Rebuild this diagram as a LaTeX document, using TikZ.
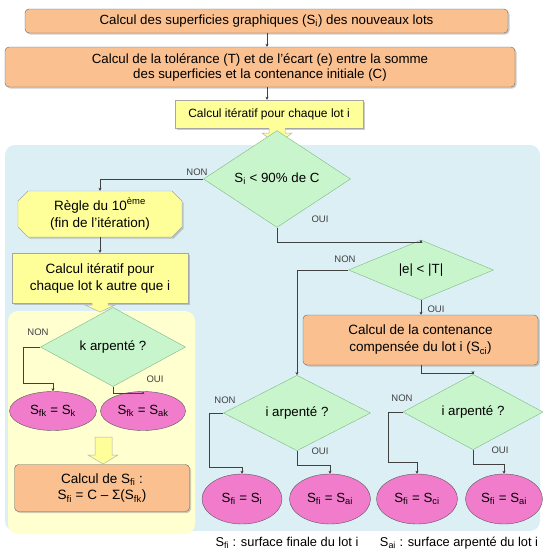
\documentclass[tikz,border=0pt]{standalone}
\usepackage{fontspec}
\setmainfont{Liberation Sans}
\usetikzlibrary{shapes.geometric,shadows,arrows.meta}
\definecolor{orfill}{HTML}{FAC090}
\definecolor{yelfill}{HTML}{FFFF99}
\definecolor{grfill}{HTML}{C8F5CC}
\definecolor{grline}{HTML}{7DBB84}
\definecolor{pkfill}{HTML}{F07CCB}
\definecolor{bluebg}{HTML}{DCEFF5}
\definecolor{yelbg}{HTML}{FFFFD0}
\definecolor{lnc}{HTML}{404040}
\tikzset{
  every node/.style={font=\fontsize{13.3}{15}\selectfont, align=center, text=black},
  big/.style={font=\fontsize{13.5}{17}\selectfont},
  obox/.style={draw=gray!80!black, fill=orfill, rounded corners=4pt, inner sep=0pt, drop shadow={shadow xshift=1.5pt, shadow yshift=-1.5pt, opacity=0.4}},
  ybox/.style={draw=gray!70, fill=yelfill, inner sep=0pt, drop shadow={shadow xshift=1.5pt, shadow yshift=-1.5pt, opacity=0.4}},
  dia/.style={diamond, draw=grline, fill=grfill, inner sep=0pt},
  ell/.style={ellipse, draw=gray!70!black, fill=pkfill, inner sep=0pt},
  conn/.style={draw=lnc, line width=0.5pt, -{Stealth[length=3pt,width=3pt]}},
  lab/.style={font=\fontsize{9.5}{11}\selectfont, text=lnc},
  legend/.style={font=\fontsize{12.8}{15}\selectfont},
  barrow/.style={fill=yelfill, draw=gray!60, line width=0.5pt}
}
\begin{document}
\begin{tikzpicture}[x=1pt,y=-1pt]
\useasboundingbox (0,0) rectangle (544,552);
% backgrounds
\fill[bluebg] (5,145) [rounded corners=10pt] rectangle (540,531);
\fill[yelbg] (8,311) [rounded corners=10pt] rectangle (195,534);
% top chain
\node[obox, minimum width=483pt, minimum height=24pt] (b1) at (266.5,21) {Calcul des superficies graphiques (S\textsubscript{i}) des nouveaux lots};
\node[obox, minimum width=510pt, minimum height=40pt] (b2) at (260,67) {Calcul de la tolérance (T) et de l’écart (e) entre la somme\\des superficies et la contenance initiale (C)};
\node[ybox, minimum width=188pt, minimum height=28pt, font=\fontsize{12}{14}\selectfont] (b3) at (269,114) {Calcul itératif pour chaque lot i};
\draw[conn] (b1.south -| 267,0) -- (b2.north -| 267,0);
\draw[conn] (b2.south -| 267,0) -- (b3.north -| 267,0);
% block arrow 1
\draw[barrow] (269,128) -- (269,133) -- (262,133) -- (277,145) -- (292,133) -- (285,133) -- (285,128);
% diamonds
\node[dia, minimum width=147pt, minimum height=63pt] (d1) at (277,179) {S\textsubscript{i} < 90\% de C};
\node[dia, minimum width=145pt, minimum height=60pt] (d2) at (421,270) {|e| < |T|};
\node[dia, minimum width=147pt, minimum height=62pt] (d3) at (297,413) {i arpenté ?};
\node[dia, minimum width=140pt, minimum height=60pt] (d4) at (473,412) {i arpenté ?};
\node[dia, minimum width=145pt, minimum height=60pt] (dk) at (113,347) {k arpenté ?};
% left column
\draw[fill=yelfill, draw=gray!70, drop shadow={shadow xshift=1.5pt, shadow yshift=-1.5pt, opacity=0.4}]
  (28,191) -- (172,191) -- (182,201) -- (182,227) -- (172,237) -- (28,237) -- (18,227) -- (18,201) -- cycle;
\node[big, inner sep=0pt, minimum width=164pt, minimum height=46pt] (rg) at (100,214) {Règle du 10\textsuperscript{ème}\\(fin de l’itération)};
\node[ybox, big, minimum width=176pt, minimum height=50pt] (kb) at (100,278) {Calcul itératif pour\\chaque lot k autre que i};
\draw[barrow] (92,303) -- (92,305) -- (85,305) -- (100,312) -- (115,305) -- (108,305) -- (108,303);
\node[ell, minimum width=87pt, minimum height=39pt] (ek1) at (53,411) {S\textsubscript{fk} = S\textsubscript{k}};
\node[ell, minimum width=85pt, minimum height=39pt] (ek2) at (143,411) {S\textsubscript{fk} = S\textsubscript{ak}};
\draw[barrow] (95,437) -- (112,437) -- (112,455) -- (118,455) -- (103,464) -- (88,455) -- (95,455) -- cycle;
\node[obox, big, minimum width=175pt, minimum height=47pt] (sf) at (102,488) {Calcul de S\textsubscript{fi} :\\S\textsubscript{fi} = C – Σ(S\textsubscript{fk})};
% right part
\node[obox, big, minimum width=235pt, minimum height=50pt] (cc) at (420.5,340) {Calcul de la contenance\\compensée du lot i (S\textsubscript{ci})};
\node[ell, minimum width=80pt, minimum height=50pt] (e1) at (242,499) {S\textsubscript{fi} = S\textsubscript{i}};
\node[ell, minimum width=81pt, minimum height=50pt] (e2) at (330,499) {S\textsubscript{fi} = S\textsubscript{ai}};
\node[ell, minimum width=81pt, minimum height=50pt] (e3) at (417,499) {S\textsubscript{fi} = S\textsubscript{ci}};
\node[ell, minimum width=77pt, minimum height=50pt] (e4) at (504,499) {S\textsubscript{fi} = S\textsubscript{ai}};
% connectors
\draw[conn] (d1.west) -| (rg.north);
\draw[conn] (rg.south) -- (kb.north);
\draw[conn] (d1.south) -- ++(0,15) -| (d2.north);
\draw[conn] (d2.west) -| (d3.north);
\draw[conn] (d2.south) -- (cc.north -| d2.south);
\draw[conn] (cc.south -| d2.south) -- ++(0,8) -| (d4.north);
\draw[conn] (d3.west) -- ++(-14,0) |- (242,467) -- (e1.north);
\draw[conn] (d3.south) -- ++(0,14) -| (e2.north);
\draw[conn] (d4.west) -- ++(-15,0) |- (417,462) -- (e3.north);
\draw[conn] (d4.south) -- ++(0,14) -| (e4.north);
\draw[conn] (dk.west) -- ++(-17,0) |- (53,383) -- (ek1.north);
\draw[conn] (dk.south) -- ++(0,6) -| (ek2.north);
% labels
\node[lab] (n1) at (197,172) {NON};
\node[lab] (o1) at (320,219) {OUI};
\node[lab] (n2) at (345,259) {NON};
\node[lab] (o2) at (436,309) {OUI};
\node[lab] (n3) at (225,400) {NON};
\node[lab] (o3) at (320,451) {OUI};
\node[lab] (n4) at (402,398) {NON};
\node[lab] (o4) at (500,450) {OUI};
\node[lab] (nk) at (38,332) {NON};
\node[lab] (ok) at (155,379) {OUI};
% legend
\node[legend] (l1) at (287,543) {S\textsubscript{fi} : surface finale du lot i};
\node[legend] (l2) at (459,543) {S\textsubscript{ai} : surface arpenté du lot i};
\end{tikzpicture}
\end{document}
